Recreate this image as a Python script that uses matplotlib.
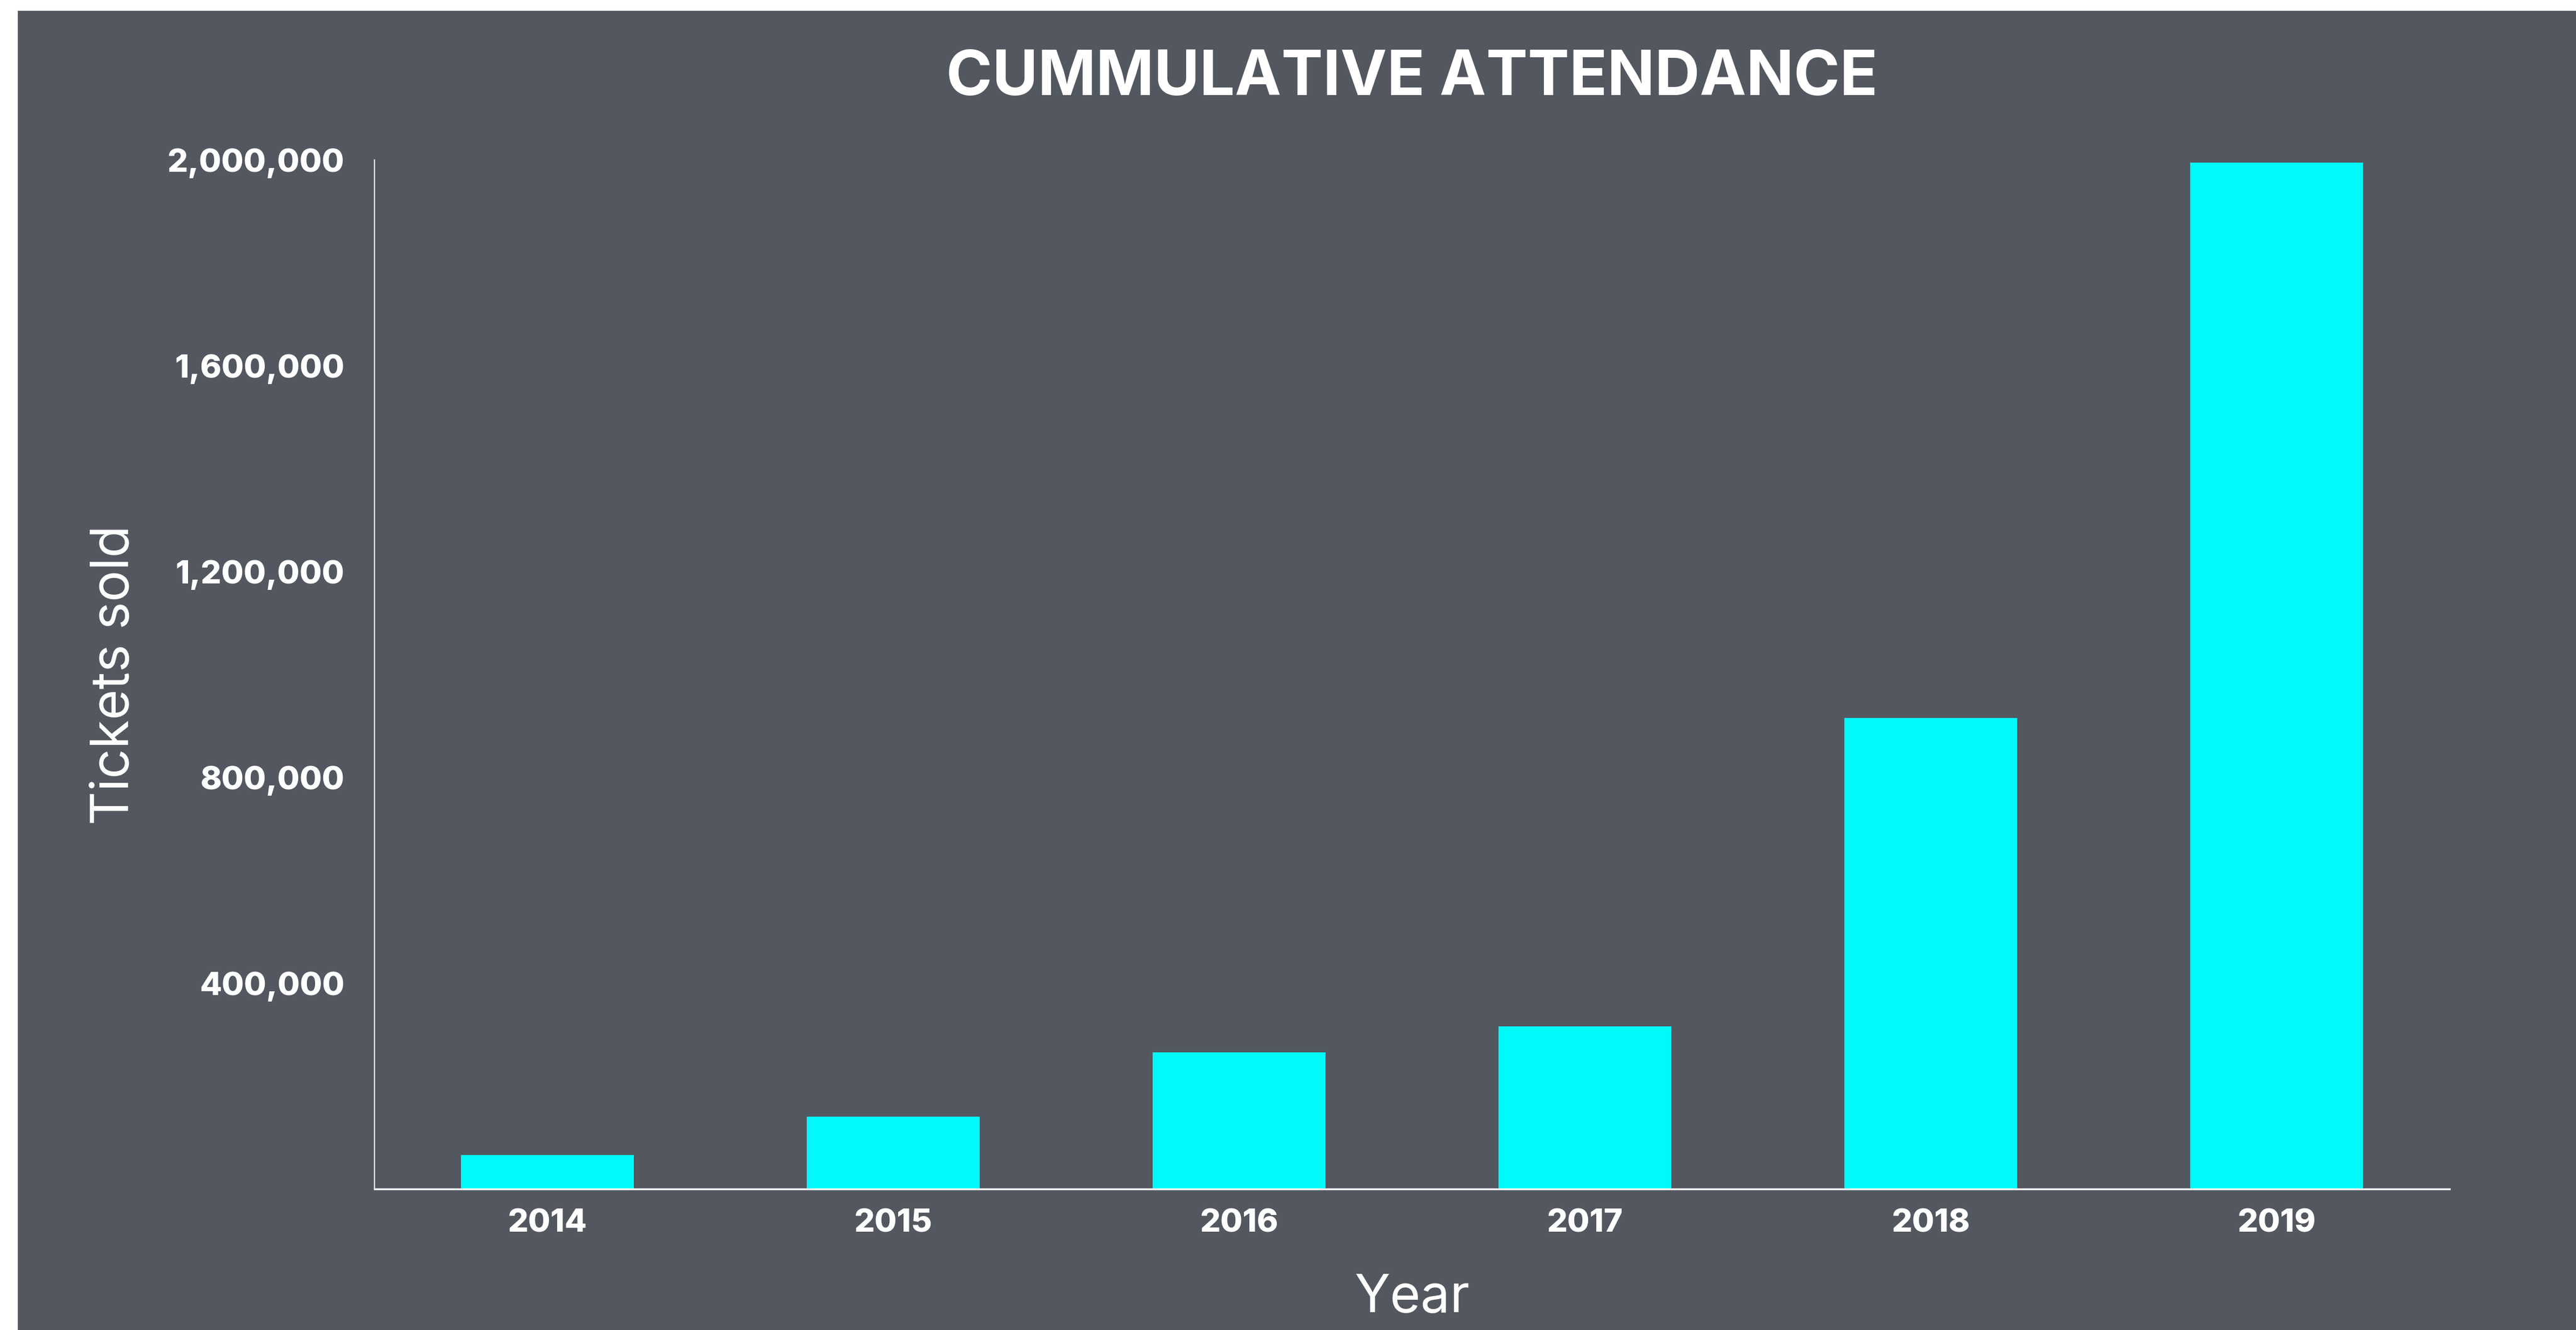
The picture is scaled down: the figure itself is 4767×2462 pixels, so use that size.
import matplotlib.pyplot as plt
from matplotlib.patches import Rectangle
from matplotlib.ticker import FuncFormatter

# datos
years = ['2014', '2015', '2016', '2017', '2018', '2019']
tickets = [66000, 141000, 266000, 316000, 915000, 1995000]
yticks = [400000, 800000, 1200000, 1600000, 2000000]

bg = '#53575F'
cyan = '#00FAFA'

W, H = 4767, 2462
fig = plt.figure(figsize=(W / 100, H / 100), dpi=100, facecolor='white')

# fondo gris con un borde blanco arriba y a la izquierda
fig.patches.append(Rectangle((33 / W, 0), 1 - 33 / W, 1 - 20 / H,
                             transform=fig.transFigure, facecolor=bg,
                             edgecolor='none', zorder=-5))

ax = fig.add_axes([693 / W, 1 - 2201 / H, (4533 - 693) / W, (2201 - 296) / H])
ax.set_facecolor(bg)

ax.bar(range(len(years)), tickets, width=0.5, color=cyan, zorder=2)

ax.set_xlim(-0.5, 5.5)
ax.set_ylim(0, 2000000)
ax.set_xticks(range(len(years)))
ax.set_xticklabels(years)
ax.set_yticks(yticks)
ax.yaxis.set_major_formatter(FuncFormatter(lambda v, p: f'{int(v):,}'))

for s in ['top', 'right']:
    ax.spines[s].set_visible(False)
ax.spines['left'].set_color('white')
ax.spines['left'].set_linewidth(1.6)
ax.spines['bottom'].set_color('white')
ax.spines['bottom'].set_linewidth(2.4)

ax.tick_params(axis='both', length=0, colors='white')
ax.tick_params(axis='y', pad=40)
ax.tick_params(axis='x', pad=26)
for lab in ax.get_xticklabels() + ax.get_yticklabels():
    lab.set_fontfamily('Inter')
    lab.set_fontweight('heavy')
    lab.set_fontsize(43)

fig.text(2613 / W, 1 - 176 / H, 'CUMMULATIVE ATTENDANCE', ha='center',
         va='baseline', color='white', fontsize=83, fontweight='bold',
         fontfamily='Inter')
fig.text(2613 / W, 1 - 2429 / H, 'Year', ha='center', va='baseline',
         color='white', fontsize=70, fontfamily='Inter')
fig.text(213 / W, 1 - 1250 / H, 'Tickets sold', ha='center', va='center',
         rotation=90, color='white', fontsize=70, fontfamily='Inter')

fig.savefig('out.png', dpi=100, facecolor=fig.get_facecolor())
